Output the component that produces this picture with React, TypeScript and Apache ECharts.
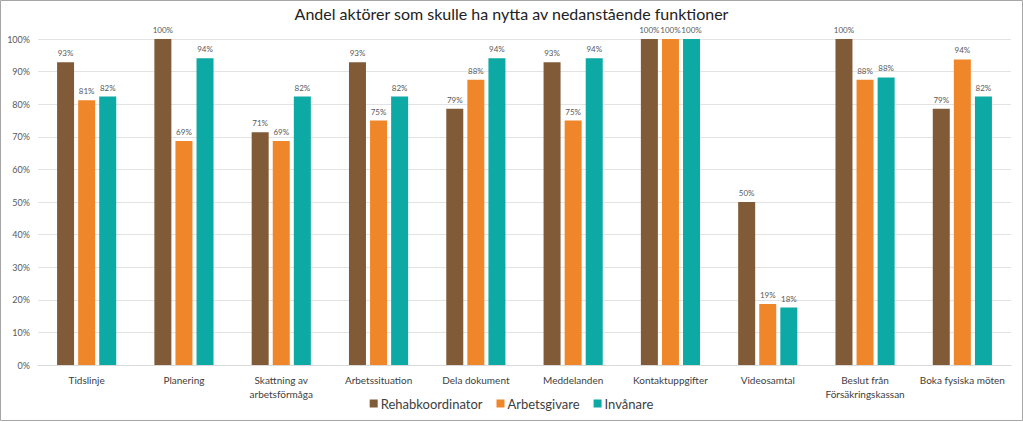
import React, { useEffect, useRef } from "react";
import * as echarts from "echarts";

const categories = [
  "Tidslinje",
  "Planering",
  "Skattning av\narbetsförmåga",
  "Arbetssituation",
  "Dela dokument",
  "Meddelanden",
  "Kontaktuppgifter",
  "Videosamtal",
  "Beslut från\nFörsäkringskassan",
  "Boka fysiska möten",
];
const rehabkoordinator = [92.9, 100, 71.4, 92.9, 78.6, 92.9, 100, 50, 100, 78.6];
const arbetsgivare = [81.25, 68.75, 68.75, 75, 87.5, 75, 100, 18.75, 87.5, 93.75];
const invanare = [82.35, 94.1, 82.35, 82.35, 94.1, 94.1, 100, 17.6, 88.2, 82.35];
const yTicks = [0, 10, 20, 30, 40, 50, 60, 70, 80, 90, 100];

const FONT = "Lato, 'Open Sans', sans-serif";

export default function App() {
  const ref = useRef<HTMLDivElement>(null);
  useEffect(() => {
    if (!ref.current) return;
    const chart = echarts.init(ref.current, undefined, { renderer: "svg" });
    const mk = (name: string, data: number[], color: string) => ({
      name,
      type: "bar",
      data,
      barWidth: 17,
      barGap: "24%",
      itemStyle: { color },
      label: {
        show: true,
        position: "top",
        distance: 5,
        fontSize: 8,
        color: "#595959",
        fontFamily: FONT,
        formatter: (p: any) => Math.round(p.value) + "%",
      },
    });
    chart.setOption({
      animation: false,
      backgroundColor: "#ffffff",
      textStyle: { fontFamily: FONT },
      title: {
        text: "Andel aktörer som skulle ha nytta av nedanstående funktioner",
        left: "center",
        top: 0,
        textStyle: { fontSize: 16, fontWeight: "normal", color: "#222", fontFamily: FONT },
      },
      legend: {
        bottom: 7,
        left: "center",
        itemWidth: 8,
        itemHeight: 8,
        itemGap: 14,
        icon: "rect",
        textStyle: { fontSize: 13, color: "#404040", fontFamily: FONT, padding: [0, 0, 0, -2] },
        data: ["Rehabkoordinator", "Arbetsgivare", "Invånare"],
      },
      grid: { left: 38, right: 12, top: 39, bottom: 57, containLabel: false },
      xAxis: {
        type: "category",
        data: categories,
        axisTick: { show: false },
        axisLine: { lineStyle: { color: "#d9d9d9" } },
        axisLabel: {
          color: "#404040",
          fontSize: 10,
          lineHeight: 14,
          margin: 8,
          interval: 0,
          fontFamily: FONT,
        },
      },
      yAxis: {
        type: "value",
        min: 0,
        max: 100,
        interval: 10,
        axisLabel: {
          color: "#595959",
          fontSize: 9,
          margin: 8,
          fontFamily: FONT,
          formatter: (v: number) => (yTicks.includes(v) ? v + "%" : ""),
        },
        splitLine: { lineStyle: { color: "#e3e3e3" } },
        axisLine: { show: false },
        axisTick: { show: false },
      },
      graphic: [
        {
          type: "rect",
          shape: { x: 0.5, y: 0.5, width: 1022, height: 420 },
          style: { fill: "none", stroke: "#a6a6a6", lineWidth: 1 },
          silent: true,
        },
      ],
      series: [
        mk("Rehabkoordinator", rehabkoordinator, "#815B37"),
        mk("Arbetsgivare", arbetsgivare, "#F0862A"),
        mk("Invånare", invanare, "#0CA9A5"),
      ],
    });
    return () => chart.dispose();
  }, []);
  return (
    <div
      ref={ref}
      style={{ position: "fixed", left: 0, top: 0, width: 1023, height: 422 }}
    />
  );
}
